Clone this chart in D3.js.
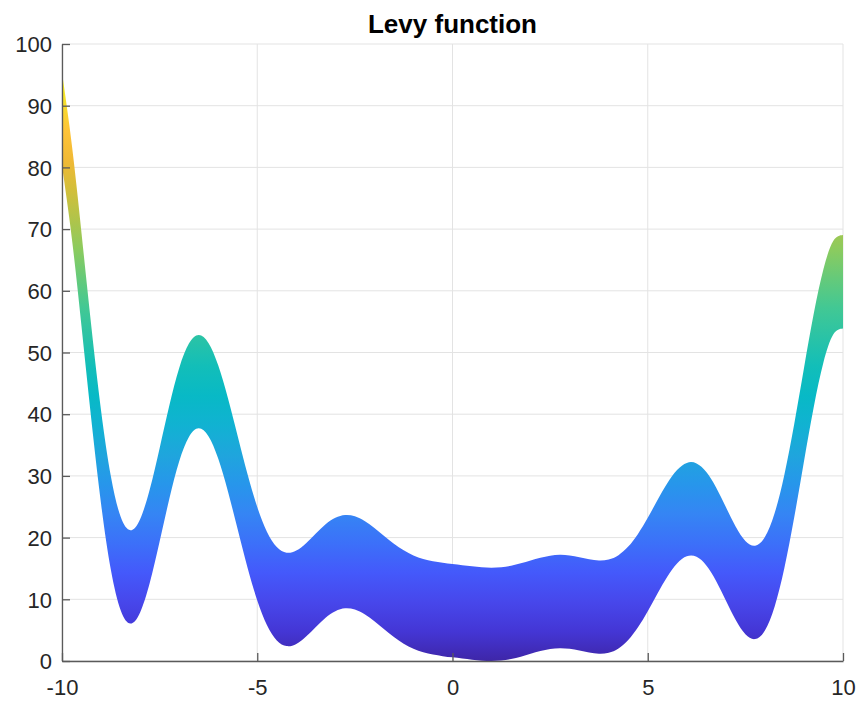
<!DOCTYPE html>
<html>
<head>
<meta charset="utf-8">
<script src="https://cdn.jsdelivr.net/npm/d3@7"></script>
<style>
  body { margin: 0; background: #fff; }
  svg { display: block; font-family: "Liberation Sans", Arial, Helvetica, sans-serif; }
  .tick-label { font-size: 22px; fill: #262626; }
  .title { font-size: 26px; font-weight: bold; fill: #000; }
</style>
</head>
<body>
<div class="canvas"></div>
<script>
// sample positions along x
const xs = [
  -10, -9.75, -9.5, -9.25, -9, -8.75, -8.5, -8.25, -8, -7.75, -7.5, -7.25, -7, -6.75, -6.5, -6.25,
  -6, -5.75, -5.5, -5.25, -5, -4.75, -4.5, -4.25, -4, -3.75, -3.5, -3.25, -3, -2.75, -2.5, -2.25,
  -2, -1.75, -1.5, -1.25, -1, -0.75, -0.5, -0.25, 0, 0.25, 0.5, 0.75, 1, 1.25, 1.5, 1.75,
  2, 2.25, 2.5, 2.75, 3, 3.25, 3.5, 3.75, 4, 4.25, 4.5, 4.75, 5, 5.25, 5.5, 5.75,
  6, 6.25, 6.5, 6.75, 7, 7.25, 7.5, 7.75, 8, 8.25, 8.5, 8.75, 9, 9.25, 9.5, 9.75, 10,
];

// bottom edge of the surface seen from the side
const lower = [
  80.27, 68.61, 54.21, 39.17, 25.49, 14.85, 8.27, 6.06, 7.86, 12.73, 19.37, 26.33, 32.32, 36.31, 37.71, 36.43,
  32.80, 27.47, 21.30, 15.17, 9.82, 5.79, 3.34, 2.42, 2.77, 3.97, 5.53, 7.02, 8.08, 8.53, 8.33, 7.57,
  6.43, 5.14, 3.88, 2.80, 1.98, 1.41, 1.04, 0.79, 0.59, 0.40, 0.21, 0.06, 0.0, 0.08, 0.31, 0.70,
  1.16, 1.61, 1.94, 2.08, 1.98, 1.70, 1.37, 1.17, 1.32, 2.02, 3.41, 5.47, 8.08, 10.95, 13.67, 15.82,
  16.98, 16.89, 15.49, 12.98, 9.82, 6.67, 4.32, 3.55, 4.95, 8.84, 15.11, 23.24, 32.32, 41.14, 48.40, 52.93, 53.90,
];

// top edge of the surface seen from the side
const upper = [
  95.40, 83.74, 69.34, 54.30, 40.62, 29.98, 23.40, 21.19, 22.99, 27.86, 34.50, 41.46, 47.45, 51.44, 52.84, 51.56,
  47.93, 42.60, 36.43, 30.30, 24.95, 20.92, 18.47, 17.55, 17.90, 19.10, 20.66, 22.15, 23.21, 23.66, 23.46, 22.70,
  21.56, 20.27, 19.01, 17.93, 17.11, 16.54, 16.17, 15.92, 15.72, 15.53, 15.34, 15.19, 15.13, 15.21, 15.44, 15.83,
  16.29, 16.74, 17.07, 17.21, 17.11, 16.83, 16.50, 16.30, 16.45, 17.15, 18.54, 20.60, 23.21, 26.08, 28.80, 30.95,
  32.11, 32.02, 30.62, 28.11, 24.95, 21.80, 19.45, 18.68, 20.08, 23.97, 30.24, 38.37, 47.45, 56.27, 63.53, 68.06, 69.03,
];

const xTicks = [-10, -5, 0, 5, 10];
const yTicks = [0, 10, 20, 30, 40, 50, 60, 70, 80, 90, 100];

// parula colormap, sampled
const parula = [
  "#3e26a8", "#4436d5", "#4747eb", "#4459fb", "#3c70f9", "#3585f4", "#2796eb",
  "#1fa5dd", "#11b2d2", "#08b9c6", "#12beb9", "#2ac3a6", "#42c894", "#65ca7a",
  "#8ccb5e", "#b0c44a", "#d2bf3a", "#f0b935", "#fec338", "#f6de2b", "#f9fb15",
];

const width = 863;
const height = 704;
const margin = { top: 44, right: 20, bottom: 43, left: 62 };

const x = d3.scaleLinear().domain([-10, 10]).range([margin.left, width - margin.right]);
const y = d3.scaleLinear().domain([0, 100]).range([height - margin.bottom, margin.top]);

const svg = d3.select(".canvas").append("svg").attr("width", width).attr("height", height);

const defs = svg.append("defs");
const zMax = d3.max(upper);
const grad = defs
  .append("linearGradient")
  .attr("id", "parula")
  .attr("gradientUnits", "userSpaceOnUse")
  .attr("x1", 0)
  .attr("x2", 0)
  .attr("y1", y(0))
  .attr("y2", y(zMax));
grad
  .selectAll("stop")
  .data(parula)
  .enter()
  .append("stop")
  .attr("offset", (d, i) => i / (parula.length - 1))
  .attr("stop-color", (d) => d);

// grid
const grid = svg.append("g").attr("stroke", "#e3e3e3").attr("stroke-width", 1);
grid
  .selectAll("line.v")
  .data(xTicks)
  .enter()
  .append("line")
  .attr("x1", (d) => x(d))
  .attr("x2", (d) => x(d))
  .attr("y1", y(0))
  .attr("y2", y(100));
grid
  .selectAll("line.h")
  .data(yTicks)
  .enter()
  .append("line")
  .attr("x1", x(-10))
  .attr("x2", x(10))
  .attr("y1", (d) => y(d))
  .attr("y2", (d) => y(d));

const band = d3
  .area()
  .x((d, i) => x(xs[i]))
  .y0((d, i) => y(lower[i]))
  .y1((d, i) => y(upper[i]))
  .curve(d3.curveNatural);

svg.append("path").datum(xs).attr("d", band).attr("fill", "url(#parula)");

// axes, ticks pointing inward
const fmt = (d) => String(d);
const xAxis = d3.axisBottom(x).tickValues(xTicks).tickFormat(fmt).tickSizeInner(-8).tickSizeOuter(0).tickPadding(18);
const yAxis = d3.axisLeft(y).tickValues(yTicks).tickFormat(fmt).tickSizeInner(-8).tickSizeOuter(0).tickPadding(10);

const gx = svg.append("g").attr("transform", `translate(0, ${y(0)})`).call(xAxis);
const gy = svg.append("g").attr("transform", `translate(${x(-10)}, 0)`).call(yAxis);

[gx, gy].forEach((g) => {
  g.select(".domain").attr("stroke", "#5a5a5a").attr("stroke-width", 1.3);
  g.selectAll(".tick line").attr("stroke", "#5a5a5a").attr("stroke-width", 1.3);
  g.selectAll(".tick text").attr("class", "tick-label").attr("font-size", null).attr("font-family", null);
});
gy.selectAll(".tick text").attr("dy", "0.35em");

svg
  .append("text")
  .attr("class", "title")
  .attr("x", (x(-10) + x(10)) / 2)
  .attr("y", 33)
  .attr("text-anchor", "middle")
  .text("Levy function");
</script>
</body>
</html>
